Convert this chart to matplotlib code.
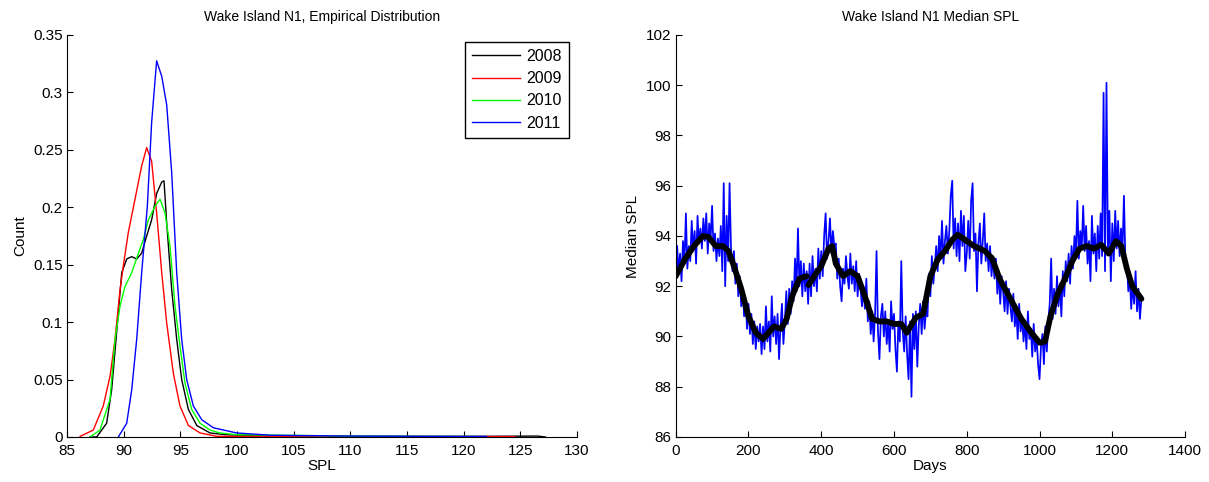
import numpy as np
import matplotlib
matplotlib.use('Agg')
import matplotlib.pyplot as plt
from matplotlib.ticker import FormatStrFormatter

plt.rcParams['font.family'] = ['Liberation Sans', 'DejaVu Sans']

# ---- left panel: empirical distributions per year ----
years = ['2008', '2009', '2010', '2011']
year_colors = ['k', 'r', (0, 1, 0), 'b']

spl_2008 = [87.0, 87.62, 88.50, 88.94, 89.38, 89.83, 90.27, 90.71, 91.15, 91.59, 92.03, 92.47,
            92.91, 93.36, 93.56, 93.80, 94.24, 94.68, 95.12, 95.71, 96.45, 97.62, 99.0, 102.0,
            110.0, 120.0, 126.5, 127.2]
cnt_2008 = [0.0, 0.0, 0.012, 0.041, 0.091, 0.143, 0.155, 0.157, 0.155, 0.160, 0.175, 0.189,
            0.212, 0.222, 0.223, 0.186, 0.128, 0.085, 0.050, 0.024, 0.010, 0.0035, 0.002, 0.001,
            0.0005, 0.0005, 0.0008, 0.0]

spl_2009 = [86.15, 87.32, 88.2, 88.8, 89.24, 89.68, 89.97, 90.41, 91.0, 91.59, 92.03, 92.47,
            92.91, 93.36, 93.80, 94.39, 94.97, 95.71, 96.74, 98.21, 103.0, 115.0, 124.5]
cnt_2009 = [0.0005, 0.006, 0.027, 0.053, 0.085, 0.128, 0.149, 0.178, 0.207, 0.236, 0.252, 0.240,
            0.195, 0.143, 0.099, 0.055, 0.027, 0.010, 0.0035, 0.0006, 0.0004, 0.0004, 0.0003]

spl_2010 = [87.03, 87.91, 88.80, 89.24, 89.68, 90.12, 90.71, 91.30, 91.74, 92.18, 92.77, 93.21,
            93.65, 94.09, 94.53, 94.97, 95.41, 96.0, 96.74, 97.62, 98.5, 100.0, 110.0, 121.0]
cnt_2010 = [0.0, 0.006, 0.033, 0.085, 0.114, 0.131, 0.143, 0.160, 0.172, 0.189, 0.201, 0.207,
            0.195, 0.166, 0.114, 0.079, 0.047, 0.024, 0.012, 0.006, 0.0035, 0.002, 0.0008, 0.0004]

spl_2011 = [89.53, 90.27, 90.71, 91.15, 91.59, 92.09, 92.47, 92.91, 93.36, 93.80, 94.24, 94.68,
            95.12, 95.56, 96.15, 96.89, 97.92, 99.98, 103.0, 110.0, 122.0]
cnt_2011 = [0.0, 0.012, 0.041, 0.085, 0.143, 0.201, 0.274, 0.3275, 0.314, 0.289, 0.230, 0.143,
            0.085, 0.050, 0.027, 0.015, 0.008, 0.0035, 0.0015, 0.0008, 0.0004]

# ---- right panel: daily median SPL (sampled every 4 days) ----
median_spl = [
    92.0, 93.6, 92.5, 93.3, 92.2, 93.8, 92.9, 94.9, 92.7, 93.6,
    93.0, 94.6, 93.4, 94.2, 92.9, 94.8, 93.7, 94.3, 93.5, 94.7,
    93.8, 94.9, 93.3, 94.5, 93.9, 95.2, 93.4, 94.1, 93.0, 93.9,
    93.2, 94.4, 92.6, 96.1, 92.0, 94.8, 93.0, 96.1, 93.5, 92.6,
    93.4, 92.1, 92.9, 91.6, 92.4, 91.2, 91.9, 90.8, 91.5, 90.3,
    91.3, 90.1, 90.9, 89.7, 90.6, 89.5, 90.4, 89.8, 90.5, 89.3,
    90.4, 89.5, 91.2, 89.8, 90.6, 89.4, 91.6, 90.0, 90.8, 89.7,
    90.9, 89.1, 90.4, 91.3, 89.7, 90.6, 91.8, 90.5, 91.9, 90.9,
    92.2, 91.4, 93.1, 91.8, 94.3, 92.0, 93.0, 91.6, 92.9, 91.8,
    92.6, 91.3, 92.9, 91.6, 93.2, 92.0, 92.7, 91.8, 93.5, 92.3,
    93.4, 92.4, 94.0, 94.9, 93.1, 93.8, 94.7, 93.3, 94.2, 93.6,
    93.7, 92.3, 93.1, 92.0, 91.4, 92.7, 92.1, 93.2, 92.4, 91.9,
    93.3, 92.1, 92.8, 91.8, 93.0, 91.6, 92.5, 91.9, 91.2, 92.0,
    91.1, 92.3, 90.6, 91.4, 90.1, 91.0, 89.8, 90.9, 93.4, 90.2,
    89.1, 90.8, 91.3, 90.0, 91.0, 89.7, 90.6, 89.4, 91.4, 90.3,
    90.9, 89.5, 88.6, 90.6, 89.8, 93.0, 90.2, 89.4, 90.8, 89.3,
    88.3, 90.6, 87.6, 90.9, 89.5, 91.0, 88.8, 90.4, 91.3, 90.1,
    91.4, 90.3, 91.0, 90.8, 92.5, 91.6, 93.2, 92.1, 92.8, 93.6,
    92.6, 94.0, 93.1, 94.6, 92.9, 93.8, 94.4, 93.3, 94.2, 95.6,
    96.2, 93.5, 94.7, 93.2, 94.5, 93.0, 95.0, 93.6, 94.8, 92.6,
    93.3, 94.6, 93.1, 95.4, 96.1, 93.4, 94.1, 91.8, 93.7, 94.5,
    92.9, 93.8, 94.9, 93.0, 93.7, 92.6, 93.6, 92.4, 93.2, 92.3,
    93.1, 91.7, 92.6, 91.3, 92.4, 91.8, 91.0, 92.2, 90.9, 91.9,
    91.2, 90.6, 91.7, 90.4, 91.1, 89.9, 91.3, 90.2, 90.8, 89.8,
    90.6, 89.5, 91.0, 89.9, 90.3, 89.2, 90.5, 89.4, 90.0, 88.9,
    88.3, 89.6, 90.1, 88.9, 90.4, 89.4, 90.6, 91.3, 93.1, 90.7,
    91.9, 90.9, 92.4, 91.2, 92.1, 90.8, 92.6, 91.6, 93.0, 92.2,
    93.3, 92.1, 93.6, 92.7, 94.0, 93.2, 95.4, 93.1, 94.2, 93.5,
    95.2, 93.4, 94.4, 92.9, 93.8, 92.2, 94.8, 93.3, 94.1, 92.6,
    94.4, 93.1, 94.9, 93.2, 99.7, 92.6, 100.1, 93.4, 95.0, 92.2,
    94.5, 93.0, 95.0, 93.5, 94.6, 93.2, 94.3, 93.4, 95.6, 93.0,
    92.9, 91.8, 92.4, 91.1, 92.1, 91.3, 92.6, 91.0, 91.9, 90.7,
    91.5,
]
days = np.arange(len(median_spl)) * 4

# smoothed median, two pieces (break at the first year boundary)
smooth_days_a = [0, 25, 50, 75, 90, 110, 130, 145, 160, 180, 200, 220, 240, 255, 270, 290,
                 305, 320, 340, 360]
smooth_spl_a = [92.4, 93.06, 93.6, 94.0, 93.96, 93.6, 93.6, 93.4, 92.8, 91.9, 90.8, 90.15,
                89.9, 90.15, 90.4, 90.3, 90.7, 91.6, 92.3, 92.4]
smooth_days_b = [365, 385, 400, 420, 430, 440, 460, 480, 500, 520, 540, 560, 580, 600, 620,
                 635, 660, 680, 700, 720, 740, 760, 775, 800, 820, 850, 870, 890, 920, 950,
                 975, 1000, 1015, 1030, 1050, 1070, 1090, 1110, 1130, 1150, 1170, 1190, 1210,
                 1225, 1240, 1255, 1270, 1280]
smooth_spl_b = [92.05, 92.5, 92.8, 93.5, 93.6, 92.9, 92.4, 92.6, 92.4, 91.6, 90.7, 90.6,
                90.6, 90.5, 90.5, 90.15, 90.75, 90.9, 92.4, 93.06, 93.4, 93.85, 94.05, 93.8,
                93.6, 93.4, 93.1, 92.3, 91.5, 90.7, 90.2, 89.75, 89.8, 90.8, 91.7, 92.3, 93.0,
                93.5, 93.6, 93.5, 93.65, 93.3, 93.8, 93.6, 92.7, 92.0, 91.7, 91.5]


def matlab_axes(ax):
    ax.spines['top'].set_visible(False)
    ax.spines['right'].set_visible(False)
    ax.tick_params(direction='in', length=4, labelsize=11, top=False, right=False)
    ax.tick_params(axis='x', pad=5)
    ax.tick_params(axis='y', pad=3)
    ax.patch.set_facecolor('white')


fig = plt.figure(figsize=(12.09, 4.82), dpi=100)

ax1 = fig.add_axes([0.0554, 0.0934, 0.4219, 0.834])
for sx, sy, lab, col in zip([spl_2008, spl_2009, spl_2010, spl_2011],
                            [cnt_2008, cnt_2009, cnt_2010, cnt_2011], years, year_colors):
    ax1.plot(sx, sy, color=col, linewidth=1.0, label=lab)
ax1.set_xlim(85, 130)
ax1.set_ylim(0, 0.35)
ax1.set_xticks(np.arange(85, 131, 5))
ax1.set_yticks(np.arange(0, 0.351, 0.05))
ax1.yaxis.set_major_formatter(FormatStrFormatter('%g'))
ax1.set_xlabel('SPL', fontsize=11, labelpad=1)
ax1.set_ylabel('Count', fontsize=11)
ax1.set_title('Wake Island N1, Empirical Distribution', fontsize=10, pad=10)
matlab_axes(ax1)
leg = ax1.legend(loc='upper right', bbox_to_anchor=(0.985, 0.983), fontsize=11.5,
                 handlelength=3.0, handletextpad=0.4, borderpad=0.45, labelspacing=0.45,
                 borderaxespad=0.0, fancybox=False, framealpha=1)
leg.get_frame().set_edgecolor('black')
leg.get_frame().set_linewidth(1.0)

ax2 = fig.add_axes([0.5589, 0.0934, 0.4213, 0.834])
ax2.plot(days, median_spl, color='b', linewidth=1.25)
ax2.plot(smooth_days_a, smooth_spl_a, color='k', linewidth=4.2, solid_capstyle='round')
ax2.plot(smooth_days_b, smooth_spl_b, color='k', linewidth=4.2, solid_capstyle='round')
ax2.set_xlim(0, 1400)
ax2.set_ylim(86, 102)
ax2.set_xticks(np.arange(0, 1401, 200))
ax2.set_yticks(np.arange(86, 103, 2))
ax2.set_xlabel('Days', fontsize=11, labelpad=1)
ax2.set_ylabel('Median SPL', fontsize=11)
ax2.set_title('Wake Island N1 Median SPL', fontsize=10, pad=10)
matlab_axes(ax2)

fig.savefig('out.png', dpi=100)
